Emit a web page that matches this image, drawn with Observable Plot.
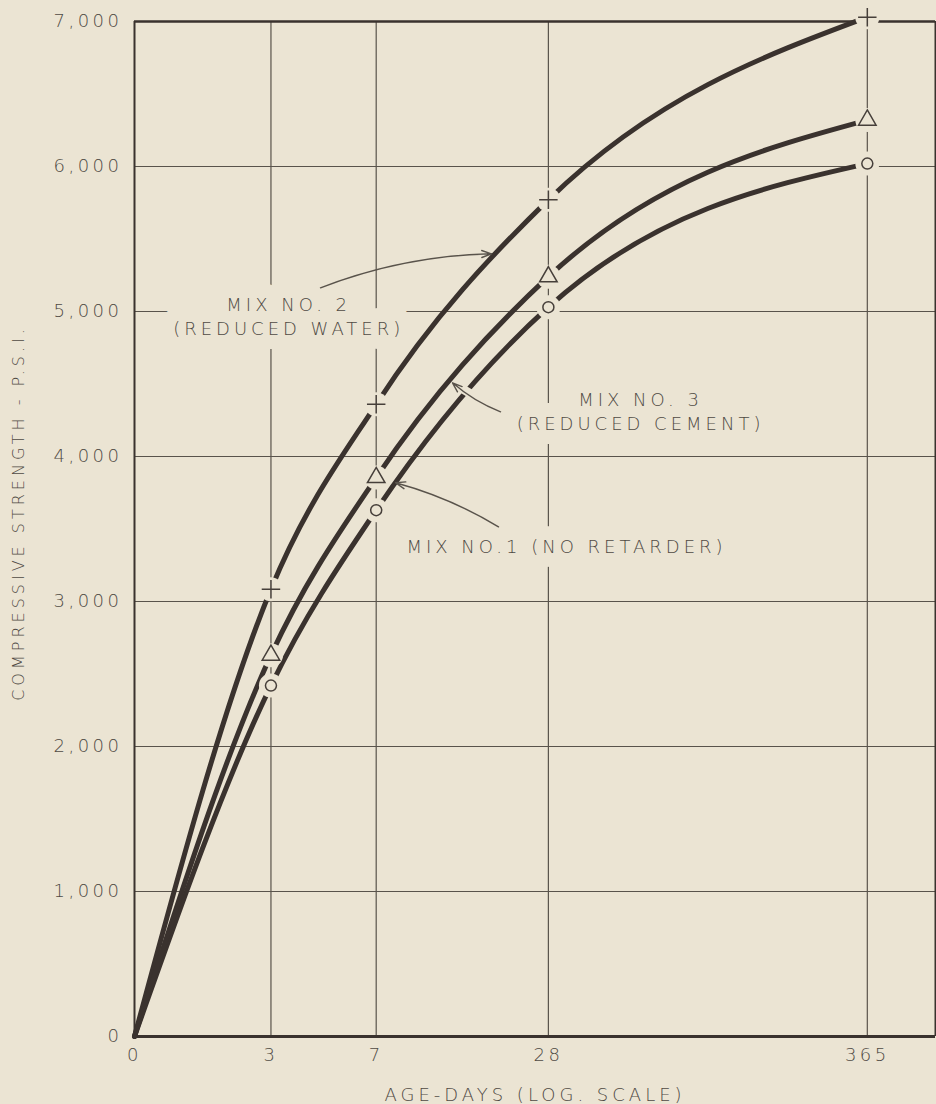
<!DOCTYPE html>
<html>
<head>
<meta charset="utf-8">
<script src="https://cdn.jsdelivr.net/npm/d3@7"></script>
<script src="https://cdn.jsdelivr.net/npm/@observablehq/plot@0.6"></script>
<style>
  html, body { margin: 0; padding: 0; background: #ebe4d3; }
  #chart svg text { letter-spacing: 4px; }
  #chart svg g[aria-label="y-axis tick label"] text,
  #chart svg g.age-label text { letter-spacing: 3.5px; }
</style>
</head>
<body>
<div id="chart"></div>
<script>
// Age at test (days) and compressive strength (psi) for the three mixes
const ages = [0, 3, 7, 28, 365];
const ageLabels = ["0", "3", "7", "28", "365"];
const mix1Psi = [0, 2420, 3630, 5030, 6020];
const mix2Psi = [0, 3085, 4360, 5770, 7030];
const mix3Psi = [0, 2630, 3855, 5240, 6320];
const mixIds = ["mix1", "mix2", "mix3"];
const mixSymbols = ["circle", "plus", "triangle"];
const psiTicks = [0, 1000, 2000, 3000, 4000, 5000, 6000, 7000];

// Curve call-outs: label text, label anchor, arrow tail and arrow tip (age, psi)
const noteText = ["MIX NO. 2\n(REDUCED WATER)", "MIX NO. 3\n(REDUCED CEMENT)", "MIX NO.1 (NO RETARDER)"];
const noteAge = [3.46, 58.8, 32.4];
const notePsi = [4975, 4320, 3390];
const arrowTailAge = [4.47, 19.05, 18.74];
const arrowTailPsi = [5163, 4308, 3515];
const arrowTipAge = [17.7, 12.94, 8.18];
const arrowTipPsi = [5398, 4508, 3819];
const arrowBend = [10, 10, -8];

const yTitle = "COMPRESSIVE STRENGTH - P.S.I.";
const xTitle = "AGE-DAYS (LOG. SCALE)";

const paper = "#ebe4d3";
const ink = "#3a322e";
const gridInk = "#59534b";
const textInk = "#4f4a44";
const lettering = {fontSize: 18, fontWeight: 200, fill: textInk};

// A log axis cannot reach zero: age 0 is drawn at the origin of the axis (day 1)
const ageX = a => Math.max(a, 1);
const thousands = d3.format(",");

const psiByMix = {mix1: mix1Psi, mix2: mix2Psi, mix3: mix3Psi};
const rows = mixIds.flatMap(m => ages.map((a, i) => ({mix: m, age: a, psi: psiByMix[m][i]})));
const tested = rows.filter(d => d.age > 0);
const notes = noteText.map((t, i) => ({
  text: t, age: noteAge[i], psi: notePsi[i],
  age1: arrowTailAge[i], psi1: arrowTailPsi[i],
  age2: arrowTipAge[i], psi2: arrowTipPsi[i], bend: arrowBend[i]
}));
const ageTicks = ages.map((a, i) => ({age: ageX(a), label: ageLabels[i]}));

const chart = Plot.plot({
  width: 936,
  height: 1104,
  marginTop: 21,
  marginRight: 1,
  marginBottom: 68,
  marginLeft: 134,
  style: {background: paper, fontFamily: "'DejaVu Sans', sans-serif", fontSize: "18px", color: textInk, overflow: "visible"},
  x: {type: "log", domain: [1, 632], axis: null},
  y: {domain: [0, 7000], axis: null},
  marks: [
    // grid
    Plot.ruleX(ages.filter(a => a > 0), {x: ageX, stroke: gridInk, strokeWidth: 1.2}),
    Plot.ruleY(psiTicks.filter(v => v > 0 && v < 7000), {stroke: gridInk, strokeWidth: 1.2}),
    // frame
    Plot.ruleY([0], {stroke: ink, strokeWidth: 3}),
    Plot.ruleY([7000], {stroke: ink, strokeWidth: 2.5}),
    Plot.ruleX([1], {stroke: ink, strokeWidth: 2}),
    Plot.ruleX([632], {stroke: ink, strokeWidth: 2}),
    // paper-coloured knock-out behind the call-out lettering
    Plot.text(notes, {x: "age", y: "psi", text: "text", lineHeight: 1.33, fontSize: 18, fontWeight: 200,
      fill: paper, stroke: paper, strokeWidth: 28}),
    Plot.text(notes, {x: "age", y: "psi", text: "text", lineHeight: 1.33, ...lettering}),
    // strength curves
    Plot.line(rows, {x: d => ageX(d.age), y: "psi", z: "mix", curve: "monotone-x",
      stroke: ink, strokeWidth: 5, strokeLinecap: "round"}),
    // the curves break around each plotted test result
    Plot.dot(tested, {x: "age", y: "psi", r: 12, fill: paper, stroke: null}),
    ...mixIds.map((m, i) => Plot.dot(tested.filter(d => d.mix === m), {
      x: "age", y: "psi", symbol: mixSymbols[i],
      r: mixSymbols[i] === "circle" ? 5.5 : mixSymbols[i] === "plus" ? 6 : 6.5,
      fill: mixSymbols[i] === "plus" ? "none" : paper, stroke: "#463f3a", strokeWidth: 1.5
    })),
    // leader arrows; the mix 3 leader cuts through the mix 1 curve
    Plot.arrow(notes.filter((d, i) => i === 1), {x1: "age1", y1: "psi1", x2: "age2", y2: "psi2", bend: d => d.bend,
      stroke: paper, strokeWidth: 9, headLength: 0, insetEnd: 10}),
    ...notes.map(n => Plot.arrow([n], {x1: "age1", y1: "psi1", x2: "age2", y2: "psi2", bend: n.bend,
      stroke: gridInk, strokeWidth: 1.4, headLength: 11, headAngle: 40})),
    // axes
    Plot.axisY({ticks: psiTicks, tickFormat: d => thousands(d), tickSize: 0, tickPadding: 12, label: null, fontSize: 18, fontWeight: 200}),
    Plot.text(ageTicks, {x: "age", text: "label", frameAnchor: "bottom", lineAnchor: "top", dy: 12, className: "age-label", ...lettering}),
    Plot.text([yTitle], {frameAnchor: "left", textAnchor: "middle", lineAnchor: "middle", rotate: -90, dx: -116, dy: -16, ...lettering, fontSize: 16}),
    Plot.text([xTitle], {frameAnchor: "bottom", textAnchor: "middle", lineAnchor: "middle", dy: 58.5, ...lettering})
  ]
});

document.getElementById("chart").append(chart);
</script>
</body>
</html>
